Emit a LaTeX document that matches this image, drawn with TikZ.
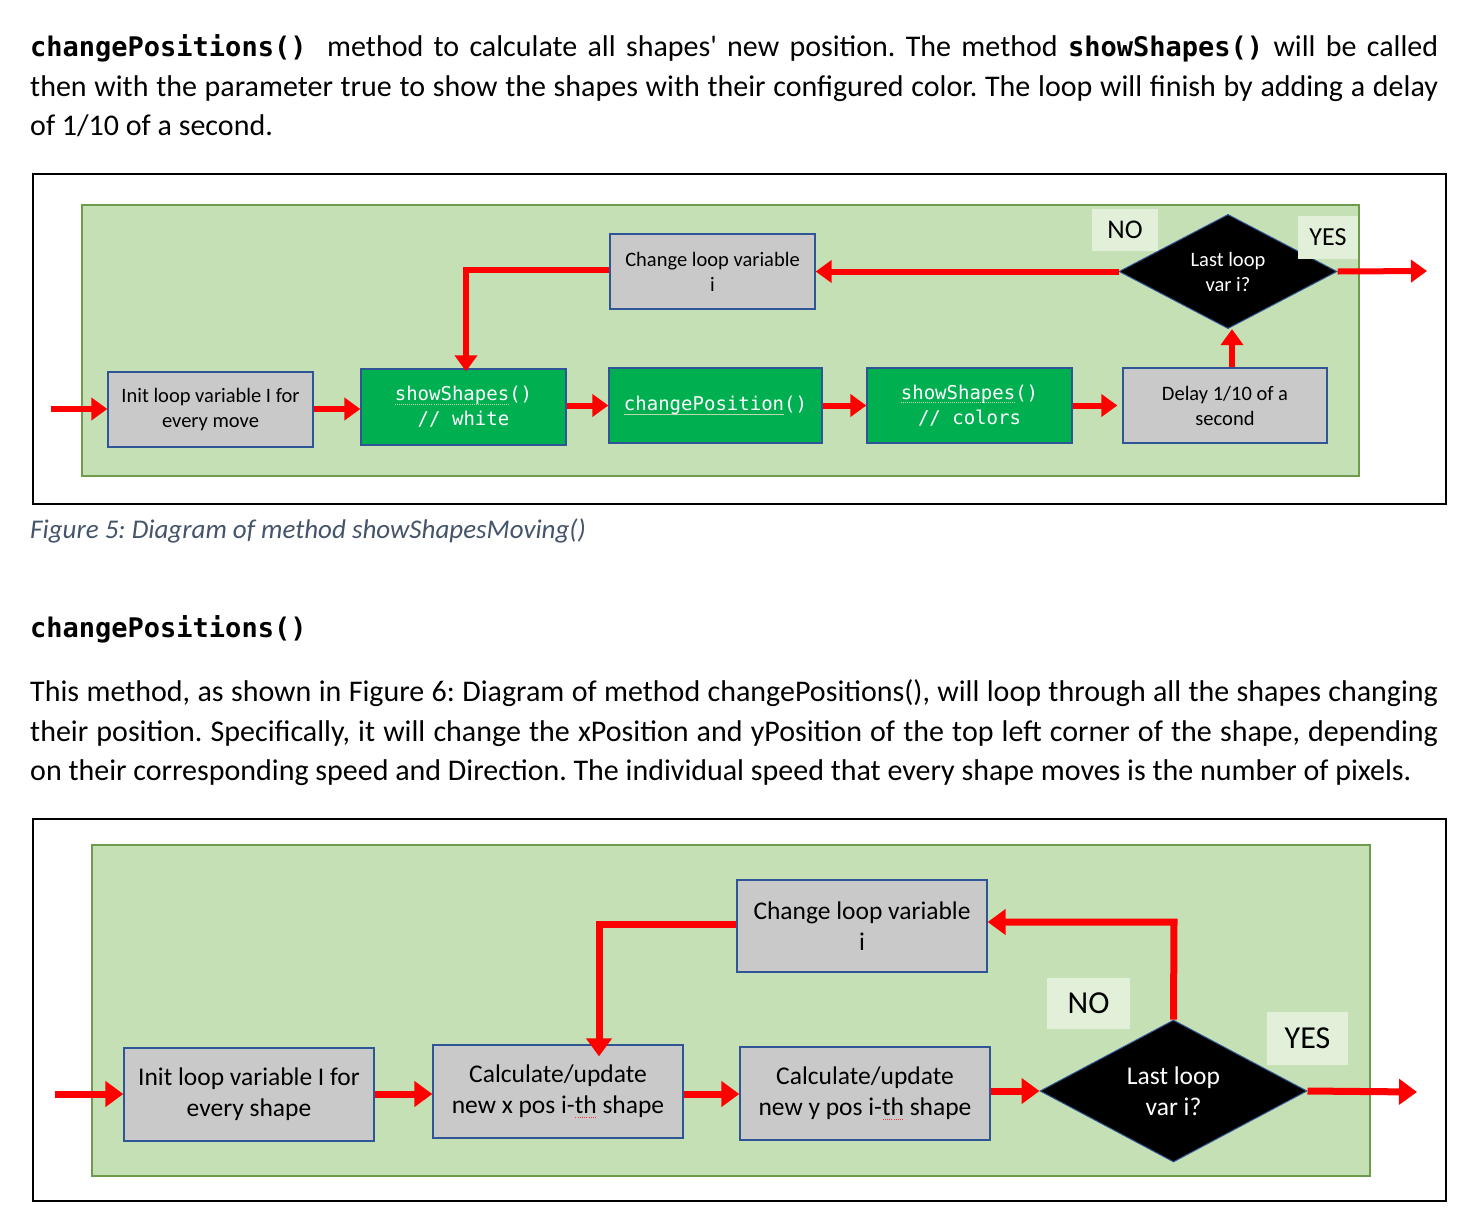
\documentclass[tikz,border=0pt]{standalone}
\usepackage{fontspec}
\setmainfont{Carlito}
\setmonofont{DejaVu Sans Mono}
\usetikzlibrary{arrows.meta,shapes.geometric}
\definecolor{bggreen}{HTML}{C5E0B4}
\definecolor{bgborder}{HTML}{6E9B4C}
\definecolor{boxgray}{HTML}{C9C9C9}
\definecolor{boxblue}{HTML}{2F5597}
\definecolor{codegreen}{HTML}{00B050}
\definecolor{lblgreen}{HTML}{E2F0D9}
\definecolor{captionc}{HTML}{44546A}
\definecolor{arrred}{HTML}{FF0000}
\definecolor{ulpale}{HTML}{B8D8B0}
\frenchspacing
\newcommand{\myDotUL}[1]{\setbox0\hbox{#1}\rlap{\raisebox{-4pt}{\color{ulpale}\hbox to \wd0{\xleaders\hbox to 2pt{\hss\rule{1pt}{1pt}\hss}\hfill}}}\box0\relax}
\newcommand{\mySolUL}[1]{\setbox0\hbox{#1}\rlap{\raisebox{-4pt}{\color{ulpale}\rule{\wd0}{1pt}}}\box0\relax}
\newcommand{\mySquig}[1]{\setbox0\hbox{#1}\rlap{\raisebox{-4pt}{\color{red!80}\hbox to \wd0{\xleaders\hbox to 2pt{\hss\rule{1pt}{1pt}\hss}\hfill}}}\box0\relax}
\begin{document}
\begin{tikzpicture}[x=1pt,y=-1pt,
  bodytext/.style={anchor=base west, inner sep=0, font=\fontsize{30}{36}\selectfont},
  frame/.style={draw=black, line width=2pt, fill=white},
  greenarea/.style={draw=bgborder, line width=2pt, fill=bggreen},
  graybox/.style={draw=boxblue, line width=1.3pt, fill=boxgray, align=center, inner sep=0},
  codebox/.style={draw=boxblue, line width=1.3pt, fill=codegreen, text=white, align=center, inner sep=0},
  decision/.style={diamond, draw=boxblue, line width=1pt, fill=black, text=white, align=center, inner sep=0},
  lbl/.style={fill=lblgreen, inner sep=0},
  arrA/.style={draw=arrred, line width=6pt, -{Triangle[width=22pt,length=16pt]}},
  arrB/.style={draw=arrred, line width=7pt, -{Triangle[width=25pt,length=18pt]}}
]
\useasboundingbox[fill=white] (0,0) rectangle (1480,1208);

% ---------- text at top ----------
\node[bodytext] (t1) at (30,56) {\makebox[1408pt][s]{{\fontsize{27}{33}\ttfamily\bfseries changePositions()}\ \ method to calculate all shapes\textquotesingle\ new position. The method {\fontsize{27}{33}\ttfamily\bfseries showShapes()} will be called}};
\node[bodytext] (t2) at (30,96) {\makebox[1408pt][s]{then with the parameter true to show the shapes with their configured color. The loop will finish by adding a delay}};
\node[bodytext] (t3) at (30,135) {of 1/10 of a second.};

% ---------- diagram 1 ----------
\node[frame, minimum width=1413, minimum height=330, anchor=north west, inner sep=0] (f1) at (32,173) {};
\node[greenarea, minimum width=1277, minimum height=271, anchor=north west, inner sep=0] (g1) at (81,204) {};

\node[graybox, minimum width=205, minimum height=75, font=\fontsize{20.5}{25}\selectfont] (init1) at (210.5,409.5) {Init loop variable I for\\every move};
\node[codebox, minimum width=205, minimum height=76, font=\fontsize{19}{25}\ttfamily] (sw1) at (463.5,407) {\myDotUL{showShapes}()\\// white};
\node[codebox, minimum width=213, minimum height=75, font=\fontsize{19}{25}\ttfamily] (cp1) at (715.5,405.5) {\mySolUL{changePosition}()};
\node[codebox, minimum width=205, minimum height=75, font=\fontsize{19}{25}\ttfamily] (sc1) at (969.5,405.5) {\myDotUL{showShapes}()\\// colors};
\node[graybox, minimum width=204, minimum height=75, font=\fontsize{20.5}{25}\selectfont] (delay1) at (1225,405.5) {Delay 1/10 of a\\second};
\node[graybox, minimum width=205, minimum height=75, font=\fontsize{20.5}{25}\selectfont] (chg1) at (712.5,271.5) {Change loop variable\\i};
\node[decision, minimum width=218, minimum height=111, font=\fontsize{20.5}{25}\selectfont] (dec1) at (1228,271.5) {Last loop\\var i?};
\node[lbl, minimum width=66, minimum height=42, font=\fontsize{27}{30}\selectfont] (no1) at (1125,230) {NO};
\node[lbl, minimum width=60, minimum height=43, font=\fontsize{26}{30}\selectfont] (yes1) at (1328,237.5) {YES};

\coordinate (in1) at (51,409);
\coordinate (out1) at (1427,271);
\coordinate (bend1) at (466,270);
\draw[arrA] (in1) -- (init1.west |- in1);
\draw[arrA] (init1.east |- in1) -- (sw1.west |- in1);
\draw[arrA] (sw1.east |- cp1.west) -- (cp1.west);
\draw[arrA] (cp1.east) -- (sc1.west);
\draw[arrA] (sc1.east) -- ([xshift=-5pt]delay1.west);
\draw[arrA] ([xshift=7pt]delay1.north) -- ([xshift=4pt]dec1.south);
\draw[arrA] (dec1.west) -- (chg1.east |- dec1.west);
\draw[arrA] (chg1.west |- bend1) -- (bend1) -- ([yshift=-3pt]bend1 |- sw1.north);
\draw[arrA] (dec1.east) -- (out1);

% ---------- caption & second section ----------
\node[bodytext, font=\fontsize{27}{32}\selectfont\itshape, text=captionc] (cap1) at (30,538) {Figure 5: Diagram of method showShapesMoving()};
\node[bodytext, font=\fontsize{27}{33}\ttfamily\bfseries] (h2) at (30,637) {changePositions()};
\node[bodytext] (p1) at (30,701) {\makebox[1408pt][s]{This method, as shown in Figure 6: Diagram of method changePositions(), will loop through all the shapes changing}};
\node[bodytext] (p2) at (30,741) {\makebox[1408pt][s]{their position. Specifically, it will change the xPosition and yPosition of the top left corner of the shape, depending}};
\node[bodytext] (p3) at (30,780) {on their corresponding speed and Direction. The individual speed that every shape moves is the number of pixels.};

% ---------- diagram 2 ----------
\node[frame, minimum width=1413, minimum height=382, anchor=north west, inner sep=0] (f2) at (32,818) {};
\node[greenarea, minimum width=1278, minimum height=331, anchor=north west, inner sep=0] (g2) at (91,844) {};

\node[graybox, minimum width=250, minimum height=93, font=\fontsize{25.5}{31}\selectfont] (init2) at (249,1094.5) {Init loop variable I for\\every shape};
\node[graybox, minimum width=250, minimum height=93, font=\fontsize{25.5}{31}\selectfont] (cx2) at (558,1091.5) {Calculate/update\\new x pos i-\mySquig{th}\ shape};
\node[graybox, minimum width=250, minimum height=93, font=\fontsize{25.5}{31}\selectfont] (cy2) at (865,1093.5) {Calculate/update\\new y pos i-\mySquig{th}\ shape};
\node[graybox, minimum width=250, minimum height=92, font=\fontsize{25.5}{31}\selectfont] (chg2) at (862,926) {Change loop variable\\i};
\node[decision, minimum width=267, minimum height=136, font=\fontsize{25.5}{31}\selectfont] (dec2) at (1173.5,1091) {Last loop\\var i?};
\node[lbl, minimum width=83, minimum height=51, font=\fontsize{32}{34}\selectfont] (no2) at (1088.5,1003.5) {NO};
\node[lbl, minimum width=81, minimum height=53, font=\fontsize{32}{34}\selectfont] (yes2) at (1307.5,1038.5) {YES};

\coordinate (in2) at (55,1094);
\coordinate (out2) at (1417,1092);
\coordinate (up2) at (1174,922);
\coordinate (bend2) at (599,924);
\draw[arrB] (in2) -- (init2.west |- in2);
\draw[arrB] (init2.east |- in2) -- (cx2.west |- in2);
\draw[arrB] (cx2.east |- in2) -- (cy2.west |- in2);
\draw[arrB] (cy2.east |- dec2.west) -- (dec2.west);
\draw[arrB] (dec2.north) -- (up2) -- (chg2.east |- up2);
\draw[arrB] (chg2.west |- bend2) -- (bend2) -- ([yshift=-12pt]bend2 |- cx2.north);
\draw[arrB] (dec2.east) -- (out2);
\end{tikzpicture}
\end{document}
